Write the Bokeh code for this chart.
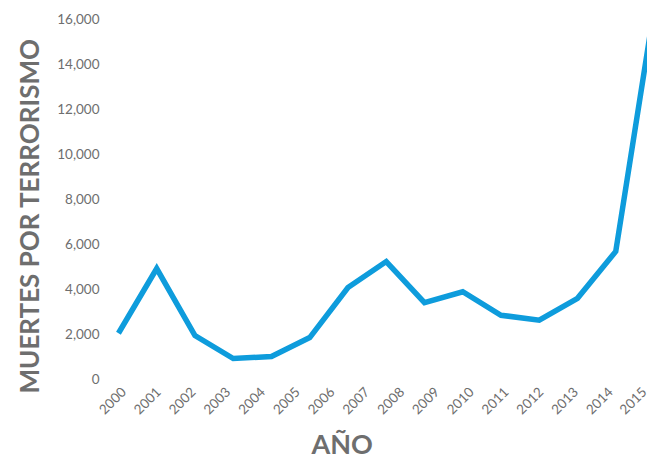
import math
from bokeh.plotting import figure
from bokeh.models import Range1d, LinearAxis, FixedTicker, NumeralTickFormatter, Title, ColumnDataSource
from bokeh.embed import file_html
from bokeh.resources import INLINE

# Data
years = [2000, 2001, 2002, 2003, 2004, 2005, 2006, 2007, 2008, 2009, 2010, 2011, 2012, 2013, 2014]
deaths = [2050, 4920, 1950, 930, 1020, 1860, 4080, 5230, 3410, 3890, 2850, 2630, 3600, 5680, 16400]
tick_years = list(range(2000, 2016))
y_ticks = [0, 2000, 4000, 6000, 8000, 10000, 12000, 14000, 16000]
x_title = "AÑO"
y_title = "MUERTES POR TERRORISMO"

GRAY = "#6e6e6e"
BLUE = "#0e9cdc"
FONT = "Lato"

p = figure(width=647, height=463, output_backend="svg", toolbar_location=None,
           x_range=Range1d(1999.661, 2013.83), y_range=Range1d(-222, 16186),
           x_axis_location=None, y_axis_location="left",
           min_border_left=103, min_border_right=0, min_border_top=14, min_border_bottom=79)
p.outline_line_color = None
p.xgrid.visible = False
p.ygrid.visible = False
p.background_fill_color = "white"
p.border_fill_color = "white"

p.extra_x_ranges = {"lab": Range1d(1999.484, 2015.07)}
xaxis = LinearAxis(x_range_name="lab", ticker=FixedTicker(ticks=tick_years))
xaxis.major_label_orientation = math.pi / 4
xaxis.axis_line_color = None
xaxis.major_tick_line_color = None
xaxis.minor_tick_line_color = None
xaxis.major_tick_out = 0
xaxis.major_tick_in = 0
xaxis.major_label_standoff = 5
xaxis.major_label_text_font = FONT
xaxis.major_label_text_font_size = "13.5px"
xaxis.major_label_text_color = GRAY
p.add_layout(xaxis, "below")

ya = p.yaxis[0]
ya.ticker = FixedTicker(ticks=y_ticks)
ya.formatter = NumeralTickFormatter(format="0,0")
ya.axis_line_color = None
ya.major_tick_line_color = None
ya.minor_tick_line_color = None
ya.major_tick_out = 0
ya.major_tick_in = 0
ya.major_label_standoff = 6
ya.major_label_text_font = FONT
ya.major_label_text_font_size = "13.5px"
ya.major_label_text_color = GRAY

src = ColumnDataSource(dict(x=years, y=deaths))
p.line("x", "y", source=src, line_color=BLUE, line_width=5.5, line_join="miter")

p.add_layout(Title(text=y_title, align="left", offset=-9, standoff=20,
                   text_font=FONT, text_font_style="bold", text_font_size="26px",
                   text_color=GRAY), "left")
p.add_layout(Title(text=x_title, align="left", offset=206, standoff=6,
                   text_font=FONT, text_font_style="bold", text_font_size="27px",
                   text_color=GRAY), "below")

open("out.html", "w").write(file_html(p, INLINE))
